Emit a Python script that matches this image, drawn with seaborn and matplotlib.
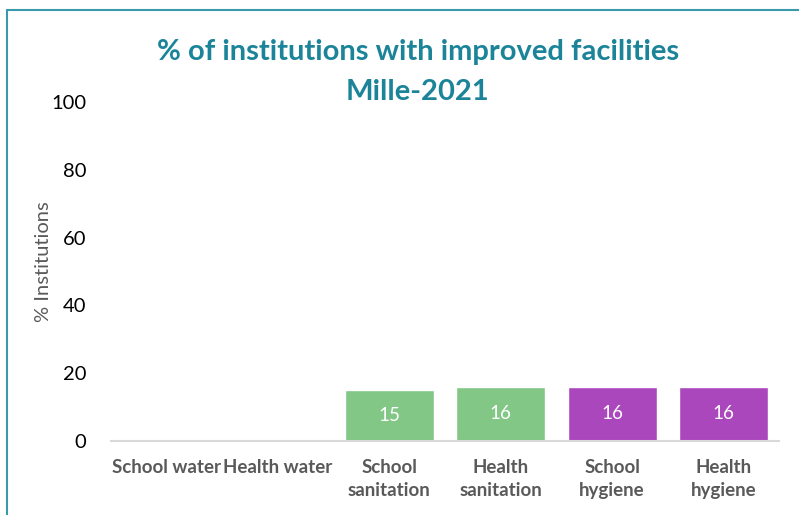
import matplotlib.pyplot as plt
import seaborn as sns
import pandas as pd
from matplotlib.lines import Line2D

categories = ["School water", "Health water", "School\nsanitation", "Health\nsanitation",
              "School\nhygiene", "Health\nhygiene"]
values = [0, 0, 15, 16, 16, 16]
groups = ["water", "water", "sanitation", "sanitation", "hygiene", "hygiene"]
colors = {"water": "#4f9ed6", "sanitation": "#82c785", "hygiene": "#ab47bc"}

df = pd.DataFrame({"Category": categories, "Value": values, "Group": groups})

sns.set_theme(style="white")
plt.rcParams["font.family"] = ["Lato", "DejaVu Sans"]

fig = plt.figure(figsize=(7.99, 5.15), dpi=100)
ax = fig.add_axes([0.139, 0.1437, 0.836, 0.6583])

sns.barplot(data=df, x="Category", y="Value", hue="Group", palette=colors,
            dodge=False, width=0.8, saturation=1, legend=False, ax=ax)

for cont in ax.containers:
    labels = [f"{v:.0f}" if v > 0 else "" for v in cont.datavalues]
    ax.bar_label(cont, labels=labels, label_type="center", color="white", fontsize=13.5)

ax.set_ylim(0, 100)
ax.set_yticks(range(0, 101, 20))
ax.set_xlim(-0.5, len(categories) - 0.5)
ax.tick_params(axis="y", labelsize=14.5, colors="black", length=0, pad=18)
ax.tick_params(axis="x", labelsize=13.5, colors="#595959", length=0, pad=13)
for lab in ax.get_xticklabels():
    lab.set_fontweight("bold")
    lab.set_linespacing(1.45)
ax.set_xlabel("")
ax.set_ylabel("% Institutions", fontsize=14.5, color="#595959")
ax.yaxis.set_label_coords(-0.088, 0.528)
for s in ["top", "right", "left"]:
    ax.spines[s].set_visible(False)
ax.spines["bottom"].set_color("#d9d9d9")
ax.spines["bottom"].set_linewidth(1.5)

fig.text(0.523, 0.86, "% of institutions with improved facilities\nMille-2021",
         ha="center", va="center", fontsize=21, fontweight="bold", color="#1b8499",
         linespacing=1.7)

frame_c = "#3a9aab"
fig.add_artist(Line2D([0.0088, 1.0], [0.9806, 0.9806], color=frame_c, lw=1.5))
fig.add_artist(Line2D([0.0088, 0.0088], [0.0, 0.9806], color=frame_c, lw=1.5))

fig.savefig("out.png", dpi=100)
